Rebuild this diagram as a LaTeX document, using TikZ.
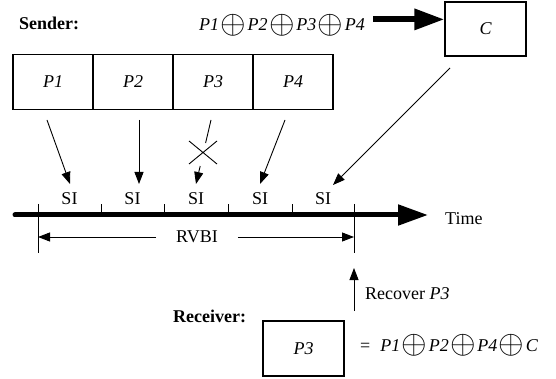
\documentclass[tikz,border=0pt]{standalone}
\usepackage{amsmath}
\usepackage{fontspec}
\setmainfont{Liberation Serif}
\usetikzlibrary{arrows.meta,positioning,calc}
\newcommand\figFont{\fontsize{18}{20}\selectfont}
\newcommand\xorOp{\kern1.5pt\raisebox{-2.6pt}{\scalebox{1.9}{$\oplus$}}\kern1.5pt}
\tikzset{
  packetBox/.style={%
    draw,
    rectangle,
    line width=1.1pt,
    minimum width=80pt,
    minimum height=55pt,
    inner sep=0pt,
    font=\figFont\itshape},
  labelText/.style={%
    inner sep=0pt,
    font=\figFont},
  thinArrow/.style={%
    line width=0.9pt,
    -{Triangle[length=12pt,width=9pt]}},
  thickArrow/.style={%
    -{Triangle[length=30pt,width=20pt]}},
  tickLine/.style={%
    line width=0.9pt},
  }

\begin{document}
\begin{tikzpicture}[x=1pt,y=-1pt]
  \useasboundingbox (0,0) rectangle (556,379);
  % sender side
  \node[labelText,anchor=base west,font=\figFont\bfseries] (sender) at (19,30) {Sender:};
  \node[labelText,anchor=base east] (xorsum) at (365,31)
    {\itshape P1\xorOp P2\xorOp P3\xorOp P4};
  \node[packetBox,minimum width=81pt,minimum height=54pt] (cbox) at (485.5,29) {C};
  \draw[thickArrow,line width=6pt] (xorsum.east) ++(8,-6) coordinate (xs) -- (cbox.west |- xs);
  \foreach \i in {1,...,4}
    \node[packetBox] (p\i) at (-27+80*\i,82) {P\i};
  % time line
  \foreach \x [count=\k] in {38,101,164,228,292,354}
    \coordinate (tick\k) at (\x,215);
  \foreach \k [count=\j from 2] in {1,...,5}
    \node[labelText] (si\k) at ($(tick\k)!0.5!(tick\j)+(0,-16)$) {SI};
  \coordinate (tstart) at (15,215);
  \coordinate (tend) at (428,215);
  \draw[thickArrow,line width=5pt,line cap=round] (tstart) -- (tend);
  \node[labelText,anchor=base west] (time) at (445,225) {Time};
  \foreach \k in {2,...,5}
    \draw[tickLine] (tick\k) -- ++(0,-11);
  \draw[tickLine] (tick1) ++(0,-11) -- ++(0,49);
  \draw[tickLine] (tick6) ++(0,-11) -- ++(0,49);
  % packets to slots
  \coordinate (a1) at (47,120);
  \coordinate (a2) at (139,120);
  \coordinate (a3) at (211,120);
  \coordinate (a4) at (285,120);
  \coordinate (a5) at (450,68);
  \draw[thinArrow] (a1) -- (70,184) coordinate (b1);
  \draw[thinArrow] (a2) -- (139,184) coordinate (b2);
  \draw[line width=0.9pt] (a3) -- (205.6,143) coordinate (c3);
  \draw[thinArrow] (200.2,166) coordinate (d3) -- (196,184) coordinate (b3);
  \draw[line width=0.9pt] (189,141) -- (217,164) (189,164) -- (217,141);
  \draw[thinArrow] (a4) -- (260,184) coordinate (b4);
  \draw[thinArrow] (a5) -- (333,185) coordinate (b5);
  % recovery interval
  \node[labelText,inner xsep=20pt] (rvbi) at (197,237) {RVBI};
  \draw[thinArrow] (rvbi.west) -- (rvbi.west -| tick1);
  \draw[thinArrow] (rvbi.east) -- (rvbi.east -| tick6);
  % receiver side
  \coordinate (rec0) at (354,311);
  \coordinate (rec1) at (354,268);
  \draw[thinArrow] (rec0) -- (rec1);
  \node[labelText,anchor=base west] (recover) at (365,299) {Recover \textit{P3}};
  \node[labelText,anchor=base west,font=\figFont\bfseries] (receiver) at (173,322) {Receiver:};
  \node[packetBox,minimum width=81pt] (rbox) at (303.5,348.5) {P3};
  \node[labelText,anchor=base west] (equation) at (360,351)
    {=\kern10pt\itshape P1\xorOp P2\xorOp P4\xorOp C};
\end{tikzpicture}
\end{document}
